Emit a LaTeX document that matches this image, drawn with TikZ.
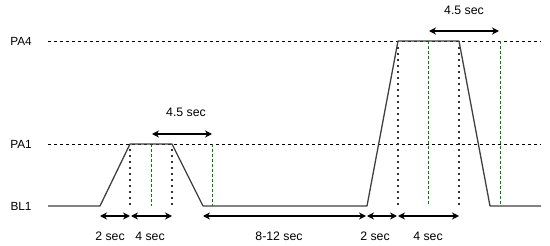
\documentclass[tikz,border=0pt]{standalone}
\usepackage{fontspec}
\setmainfont{Liberation Sans}
\usetikzlibrary{arrows.meta}
\begin{document}
\begin{tikzpicture}[x=1pt,y=-1pt,
  lbl/.style={font=\fontsize{12.3}{14}\selectfont, inner sep=0pt},
  lvl/.style={font=\fontsize{11.8}{14}\selectfont, inner sep=0pt},
  levelline/.style={draw=black, line width=0.8pt, dash pattern=on 3pt off 3pt},
  wave/.style={draw=black!75, line width=1.3pt, line join=round},
  dotline/.style={draw=black!80, line width=1.7pt, line cap=butt, dash pattern=on 1.7pt off 4.3pt},
  greenline/.style={draw=green!50!black, line width=0.8pt, dash pattern=on 3pt off 2pt},
  dim/.style={draw=black, line width=1.2pt, {Stealth[length=7pt,width=7pt]}-{Stealth[length=7pt,width=7pt]}}]
\useasboundingbox (0,0) rectangle (550,246);
% level labels
\node[lvl] (pa4) at (21,41) {PA4};
\node[lvl] (pa1) at (21,144) {PA1};
\node[lvl] (bl1) at (21,206) {BL1};
% level lines
\coordinate (l4a) at (48,41);  \coordinate (l4b) at (541,41);
\coordinate (l1a) at (48,144); \coordinate (l1b) at (541,144);
\draw[levelline] (l4a) -- (l4b);
\draw[levelline] (l1a) -- (l1b);
% waveform points
\coordinate (w0) at (48,206);
\coordinate (w1) at (100,206);
\coordinate (w2) at (130,144);
\coordinate (w3) at (172,144);
\coordinate (w4) at (203,206);
\coordinate (w5) at (367,206);
\coordinate (w6) at (398,41);
\coordinate (w7) at (459,41);
\coordinate (w8) at (490,206);
\coordinate (w9) at (541,206);
% dotted verticals
\coordinate (d1) at (130,206);
\coordinate (d2) at (172,206);
\coordinate (d3) at (398,206);
\coordinate (d4) at (459,206);
\draw[dotline] ([yshift=1pt]d1) -- ([yshift=-5pt]w2);
\draw[dotline] ([yshift=1pt]d2) -- ([yshift=-5pt]w3);
\draw[dotline] ([yshift=1pt]d3) -- ([yshift=-5pt]w6);
\draw[dotline] ([yshift=1pt]d4) -- ([yshift=-5pt]w7);
% green dashed verticals
\coordinate (g1t) at (151,144); \coordinate (g1b) at (151,206);
\coordinate (g2t) at (212,144); \coordinate (g2b) at (212,206);
\coordinate (g3t) at (428,41);  \coordinate (g3b) at (428,206);
\coordinate (g4t) at (500,41);  \coordinate (g4b) at (500,206);
\draw[greenline] (g1t) -- (g1b);
\draw[greenline] (g2t) -- (g2b);
\draw[greenline] (g3t) -- (g3b);
\draw[greenline] (g4t) -- (g4b);
\draw[wave] (w0) -- (w1) -- (w2) -- (w3) -- (w4) -- (w5) -- (w6) -- (w7) -- (w8) -- (w9);
% 4.5 sec arrows
\coordinate (a1) at (152,134); \coordinate (a2) at (212,134);
\draw[dim] (a1) -- (a2);
\node[lbl] (t45a) at (186,112) {4.5 sec};
\coordinate (a3) at (429,31); \coordinate (a4) at (499,31);
\draw[dim] (a3) -- (a4);
\node[lbl] (t45b) at (464,10) {4.5 sec};
% bottom arrows
\coordinate (b1) at (100,216); \coordinate (b2) at (130,216);
\coordinate (b3) at (172,216); \coordinate (b4) at (203,216);
\coordinate (b5) at (366,216); \coordinate (b6) at (397,216);
\coordinate (b7) at (459,216);
\draw[dim] (b1) -- (b2);
\draw[dim] ([xshift=1pt]b2) -- (b3);
\draw[dim] (b4) -- (b5);
\draw[dim] ([xshift=1pt]b5) -- (b6);
\draw[dim] ([xshift=1pt]b6) -- (b7);
\node[lbl] (t2a) at (110,236) {2 sec};
\node[lbl] (t4a) at (150,236) {4 sec};
\node[lbl] (t812) at (279,236) {8-12 sec};
\node[lbl] (t2b) at (375,236) {2 sec};
\node[lbl] (t4b) at (428,236) {4 sec};
\end{tikzpicture}
\end{document}
